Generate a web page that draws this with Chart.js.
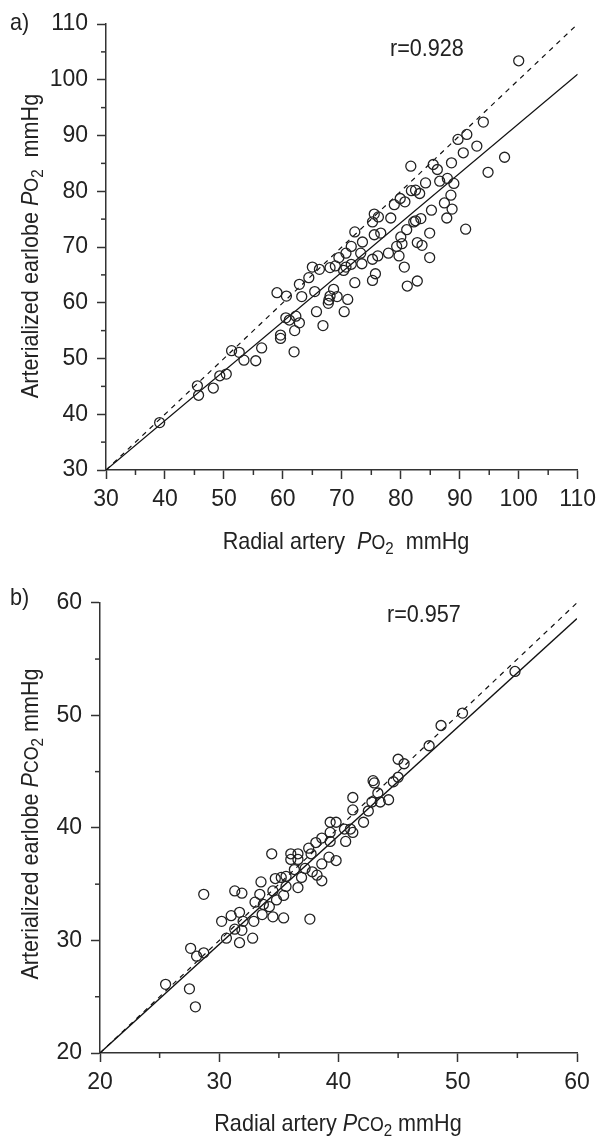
<!DOCTYPE html>
<html>
<head>
<meta charset="utf-8">
<script src="https://cdn.jsdelivr.net/npm/chart.js@4.4.1/dist/chart.umd.min.js"></script>
<style>
    body { margin: 0; background: #fff; }
    #page {
        position: relative; width: 603px; height: 1136px; overflow: hidden;
        font-family: "Liberation Sans", Arial, sans-serif;
        color: #222;
    }
    canvas { position: absolute; left: 0; }
    .lbl { position: absolute; font-size: 24px; line-height: 1; white-space: nowrap; transform-origin: left center; transform: scaleX(0.9); }
    .ctr { transform-origin: center; transform: translate(-50%, -50%) scaleX(0.9); }
    .rot { transform-origin: center; transform: translate(-50%, -50%) rotate(-90deg) scaleX(0.9); }
    .sc { font-size: 0.82em; }
    sub { font-size: 0.7em; vertical-align: -0.3em; line-height: 0; }
</style>
</head>
<body>
<div id="page">
    <canvas id="poChart" style="top:0px"></canvas>
    <canvas id="pcoChart" style="top:580px"></canvas>

    <div class="lbl" style="left:10px; top:10px">a)</div>
    <div class="lbl" style="left:390px; top:36px">r=0.928</div>
    <div class="lbl ctr" style="left:346px; top:541px">Radial artery&nbsp; <i>P</i><span class="sc">O</span><sub>2</sub>&nbsp; mmHg</div>
    <div class="lbl rot" style="left:30px; top:246px">Arterialized earlobe <i>P</i><span class="sc">O</span><sub>2</sub>&nbsp; mmHg</div>

    <div class="lbl" style="left:10px; top:585px">b)</div>
    <div class="lbl" style="left:387px; top:602px">r=0.957</div>
    <div class="lbl ctr" style="left:338px; top:1123px">Radial artery <i>P</i><span class="sc">CO</span><sub>2</sub> mmHg</div>
    <div class="lbl rot" style="left:30px; top:824px">Arterialized earlobe <i>P</i><span class="sc">CO</span><sub>2</sub> mmHg</div>
</div>

<script>
// ================= DATA =================

// a) PO2
const poTicks = [30,35,40,45,50,55,60,65,70,75,80,85,90,95,100,105,110];
const poLabels = [30,40,50,60,70,80,90,100,110];
const poRadial = [
    39.1,45.5,45.7,48.2,49.3,50.4,51.3,52.6,53.4,55.4,56.4,59.0,60.6,59.6,59.6,60.5,61.1,62.2,62.8,62.0,
    61.9,62.8,63.2,64.4,65.4,65.7,66.8,65.0,66.2,68.6,68.0,67.8,67.7,69.2,71.0,70.4,72.2,68.0,68.9,69.5,
    70.3,70.7,71.6,73.4,70.7,71.6,73.2,73.5,72.2,75.5,76.6,75.5,76.2,75.2,78.3,75.7,75.2,76.1,75.2,77.9,
    79.7,80.6,81.1,82.8,80.0,80.2,79.3,82.8,83.6,81.0,84.9,84.9,82.5,83.4,82.2,85.2,78.9,79.9,80.7,81.8,
    82.5,83.2,84.2,86.6,81.7,85.5,86.2,88.6,87.9,89.0,88.5,87.4,88.7,87.8,91.0,89.7,91.2,92.9,90.6,94.0,
    97.6,94.8,100.0
];
const poEarlobe = [
    38.5,45.1,43.4,44.7,46.9,47.2,51.4,51.1,49.7,49.6,51.9,61.8,61.2,54.2,53.6,57.3,56.9,57.6,56.4,55.0,
    51.2,63.3,61.1,64.5,62.0,58.4,55.9,66.4,66.0,62.4,61.2,60.5,59.9,61.1,60.6,58.4,63.6,66.3,66.6,68.1,
    65.8,66.4,66.9,67.0,68.9,70.1,68.9,70.9,72.7,72.2,72.5,75.9,75.4,74.5,75.2,65.2,64.0,68.4,67.8,68.9,
    68.4,66.4,63.0,63.9,71.8,70.6,70.1,70.8,70.3,73.1,72.5,68.1,74.7,75.1,74.5,76.6,77.6,78.7,78.1,80.1,
    80.2,79.6,81.5,81.8,84.5,84.8,83.9,85.1,82.3,81.4,79.3,77.9,76.8,75.2,73.2,89.3,90.2,88.1,86.9,92.4,
    86.1,83.4,103.4
];
const poFitX = [30, 110];
const poFitY = [30, 101];
const poIdentity = [30, 110];

// b) PCO2
const pcoTicks = [20,25,30,35,40,45,50,55,60];
const pcoLabels = [20,30,40,50,60];
const pcoRadial = [
    25.5,27.5,28.0,27.6,28.1,28.7,28.7,30.2,30.6,31.0,31.3,31.7,31.9,31.7,31.3,31.9,32.0,32.9,32.8,33.0,
    33.4,33.5,33.6,33.7,34.2,34.4,34.5,34.5,34.7,34.8,35.2,35.4,35.4,35.6,35.6,36.0,36.6,36.0,36.6,36.3,
    36.9,36.6,37.2,37.5,37.7,37.8,37.6,38.1,38.2,38.6,38.6,38.6,39.2,39.8,39.3,39.3,39.3,39.8,40.5,41.0,
    40.6,41.2,42.1,41.2,41.2,42.5,42.8,43.5,43.3,44.2,42.9,43.0,44.6,45.0,45.0,45.5,47.6,48.6,50.4,54.8
];
const pcoEarlobe = [
    26.1,25.7,24.1,29.3,28.6,28.9,34.1,31.7,30.2,32.2,31.0,32.5,30.9,29.8,34.4,34.2,31.7,31.7,30.2,33.4,
    34.1,35.2,32.3,33.2,33.0,37.7,34.4,32.1,35.5,33.6,35.6,34.0,32.0,35.7,34.8,37.7,37.7,37.2,37.2,36.3,
    35.6,34.7,36.4,38.2,37.7,36.1,31.9,38.7,35.8,36.8,35.3,39.1,37.4,37.1,38.8,39.6,40.5,40.5,39.9,39.9,
    38.8,39.6,40.5,42.7,41.6,41.5,42.3,42.3,43.1,42.5,44.2,44.0,44.1,44.5,46.1,45.7,47.3,49.1,50.2,53.9
];
const pcoFitX = [20, 60];
const pcoFitY = [20, 58.6];
const pcoIdentity = [20, 60];

// ================= HELPERS =================
const FONT = '"Liberation Sans", Arial, sans-serif';
const INK = "#222";

function toPoints(xs, ys) {
    return xs.map((x, i) => ({ x: x, y: ys[i] }));
}

// short ticks at the unlabelled half steps
const minorTicks = {
    id: "minorTicks",
    afterDraw(chart, args, opts) {
        const ctx = chart.ctx;
        const xs = chart.scales.x;
        const ys = chart.scales.y;
        ctx.save();
        ctx.strokeStyle = "#333";
        ctx.lineWidth = 1.5;
        xs.ticks.forEach((t) => {
            if (opts.labels.includes(t.value)) return;
            const px = xs.getPixelForValue(t.value);
            ctx.beginPath();
            ctx.moveTo(px, xs.top);
            ctx.lineTo(px, xs.top + 5);
            ctx.stroke();
        });
        ys.ticks.forEach((t) => {
            if (opts.labels.includes(t.value)) return;
            const py = ys.getPixelForValue(t.value);
            ctx.beginPath();
            ctx.moveTo(ys.right, py);
            ctx.lineTo(ys.right - 5, py);
            ctx.stroke();
        });
        ctx.restore();
    }
};

function axis(ticks, labels, size, isX) {
    return {
        type: "linear",
        min: ticks[0],
        max: ticks[ticks.length - 1],
        afterBuildTicks: (s) => { s.ticks = ticks.map((v) => ({ value: v })); },
        afterFit: (s) => { if (isX) s.height = size; else s.width = size; },
        border: { display: true, color: "#333", width: 1.5 },
        grid: {
            display: true,
            drawOnChartArea: false,
            drawTicks: true,
            tickLength: 9,
            tickWidth: 1.5,
            tickColor: (c) => labels.includes(c.tick.value) ? "#333" : "rgba(0,0,0,0)"
        },
        ticks: {
            autoSkip: false,
            maxRotation: 0,
            padding: isX ? 7 : 9,
            color: INK,
            font: { family: FONT, size: 23 },
            callback: (v) => labels.includes(v) ? String(v) : ""
        }
    };
}

function makeChart(id, w, h, cfg) {
    const el = document.getElementById(id);
    el.width = w;
    el.height = h;
    el.style.width = w + "px";
    el.style.height = h + "px";
    return new Chart(el, {
        type: "scatter",
        data: {
            datasets: [
                {
                    data: toPoints(cfg.xs, cfg.ys),
                    pointStyle: "circle",
                    pointRadius: 5,
                    pointBorderWidth: 1.3,
                    pointBorderColor: INK,
                    pointBackgroundColor: "rgba(0,0,0,0)",
                    showLine: false
                },
                {
                    data: toPoints(cfg.fitX, cfg.fitY),
                    showLine: true,
                    borderColor: "#111",
                    borderWidth: 1.3,
                    pointRadius: 0
                },
                {
                    data: toPoints(cfg.idLine, cfg.idLine),
                    showLine: true,
                    borderColor: "#111",
                    borderWidth: 1.2,
                    borderDash: [5, 5],
                    pointRadius: 0
                }
            ]
        },
        options: {
            responsive: false,
            animation: false,
            layout: { padding: cfg.padding },
            plugins: {
                legend: { display: false },
                tooltip: { enabled: false },
                minorTicks: { labels: cfg.labels }
            },
            scales: {
                x: axis(cfg.ticks, cfg.labels, cfg.xHeight, true),
                y: axis(cfg.ticks, cfg.labels, cfg.yWidth, false)
            }
        },
        plugins: [minorTicks]
    });
}

// ================= CHARTS =================

// a) PO2: plot area 106..580 x 24..470
makeChart("poChart", 603, 560, {
    xs: poRadial, ys: poEarlobe,
    fitX: poFitX, fitY: poFitY, idLine: poIdentity,
    ticks: poTicks, labels: poLabels,
    padding: { top: 24, right: 23, left: 0, bottom: 0 },
    xHeight: 90, yWidth: 106
});

// b) PCO2: plot area 100..577 x 597..1053
makeChart("pcoChart", 603, 556, {
    xs: pcoRadial, ys: pcoEarlobe,
    fitX: pcoFitX, fitY: pcoFitY, idLine: pcoIdentity,
    ticks: pcoTicks, labels: pcoLabels,
    padding: { top: 17, right: 26, left: 0, bottom: 0 },
    xHeight: 83, yWidth: 100
});
</script>
</body>
</html>
